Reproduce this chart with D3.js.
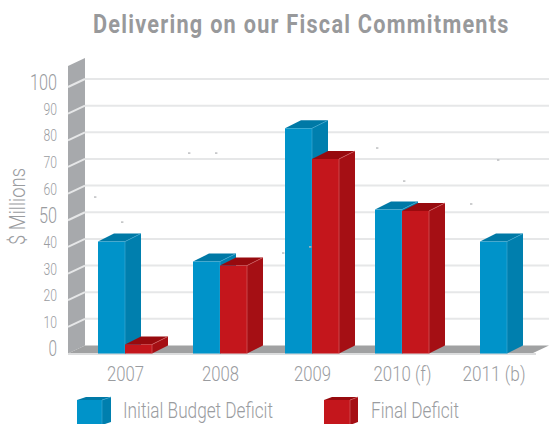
<!DOCTYPE html>
<html>
<head>
<meta charset="utf-8">
<script src="https://d3js.org/d3.v7.min.js"></script>
<style>
  html, body { margin: 0; padding: 0; background: #fff; }
  svg { display: block; }
  text { font-family: Roboto, "Liberation Sans", sans-serif; fill: #9a9c9f; }
</style>
</head>
<body>
<svg id="chart" width="549" height="424"></svg>
<script>
var categories = ["2007", "2008", "2009", "2010 (f)", "2011 (b)"];
var initialDeficit = [42, 34.5, 84.5, 54, 42];
var finalDeficit = [3.4, 33, 73, 53.5, null];
var yTicks = [0, 10, 20, 30, 40, 50, 60, 70, 80, 90, 100];
var bigTicks = [0, 50, 100];
var seriesNames = ["Initial Budget Deficit", "Final Deficit"];

// stray specks in the picture, read as values on the axis
var specksA = [55.7, 72.2, 34.7, 74.1, 53.1];
var specksB = [46.3, 72.2, 37, 61.7, 69.6];

var blue = { front: "#0093c9", side: "#007fae", top: "#0079a6", edge: "#45abd3" };
var red = { front: "#c4161c", side: "#a50f14", top: "#970a0e", edge: "#d9696c" };

var depthX = 17, depthY = 8, barW = 27;
var svg = d3.select("#chart");

// y is the back wall, front faces sit depthY lower
var y = d3.scaleLinear().domain([0, 100]).range([345.5, 79]);
var x = d3.scaleOrdinal().domain(categories).range([125, 220, 312, 402, 493.5]);
var speckX = d3.scalePoint().domain(categories).range([95, 471]);

function pts(a) { return a.map(function(p) { return p.join(","); }).join(" "); }

function poly(g, a, fill) {
  return g.append("polygon").attr("points", pts(a)).attr("fill", fill);
}

// one box: front face + side + top
function box(g, x0, w, yTop, yBottom, c, dx, dy) {
  poly(g, [[x0 + w, yTop], [x0 + w + dx, yTop - dy], [x0 + w + dx, yBottom - dy], [x0 + w, yBottom]], c.side);
  poly(g, [[x0, yTop], [x0 + dx, yTop - dy], [x0 + w + dx, yTop - dy], [x0 + w, yTop]], c.top);
  g.append("rect").attr("x", x0).attr("y", yTop).attr("width", w).attr("height", yBottom - yTop).attr("fill", c.front);
  g.append("line").attr("x1", x0 + w).attr("x2", x0 + w).attr("y1", yTop).attr("y2", yBottom)
    .attr("stroke", c.edge).attr("stroke-width", 0.6);
  g.append("line").attr("x1", x0 + w).attr("x2", x0 + w + dx).attr("y1", yTop).attr("y2", yTop - dy)
    .attr("stroke", c.edge).attr("stroke-width", 0.6);
}

function label(s, xPos, yPos, size, len, weight) {
  return svg.append("text").text(s).attr("x", xPos).attr("y", yPos)
    .attr("font-size", size).attr("font-weight", weight || 300)
    .attr("textLength", len).attr("lengthAdjust", "spacingAndGlyphs");
}

// title, squeezed sideways to fit
var title = svg.append("text").text("Delivering on our Fiscal Commitments")
  .attr("font-size", 26).attr("font-weight", 700)
  .style("letter-spacing", "1.5px")
  .style("fill", "#98999b");
var titleScale = 417 / title.node().getComputedTextLength();
title.attr("transform", "translate(93,33) scale(" + titleScale + ",1)");

// grid
svg.append("g").selectAll("line").data(yTicks.filter(function(d) { return d > 0; })).enter().append("line")
  .attr("x1", 85).attr("x2", 549)
  .attr("y1", function(d) { return y(d); }).attr("y2", function(d) { return y(d); })
  .attr("stroke", "#e6e7e8").attr("stroke-width", 2);

// wall
var x0Wall = 68, x1Wall = x0Wall + depthX;
poly(svg, [[x0Wall, 66], [x1Wall, 58], [x1Wall, y(0)], [x0Wall, y(0) + depthY]], "#a7a9ac");
svg.append("g").selectAll("line").data(yTicks.filter(function(d) { return d > 0; })).enter().append("line")
  .attr("x1", x0Wall).attr("x2", x1Wall)
  .attr("y1", function(d) { return y(d) + depthY; }).attr("y2", function(d) { return y(d); })
  .attr("stroke", "#e6e7e8").attr("stroke-width", 2);

// floor
poly(svg, [[x0Wall, y(0) + depthY], [x1Wall, y(0)], [549, y(0)], [532, y(0) + depthY]], "#a0a1a2");
svg.append("line").attr("x1", x0Wall).attr("x2", 536)
  .attr("y1", y(0) + depthY + 0.5).attr("y2", y(0) + depthY + 0.5)
  .attr("stroke", "#dcddde").attr("stroke-width", 2);

// bars
var bars = svg.append("g");
categories.forEach(function(c, i) {
  var cx = x(c);
  var base = y(0) + depthY;
  if (finalDeficit[i] === null) {
    box(bars, cx - barW / 2, barW, y(initialDeficit[i]) + depthY, base, blue, depthX - 1, depthY);
  } else {
    box(bars, cx - barW, barW, y(initialDeficit[i]) + depthY, base, blue, depthX - 1, depthY);
    box(bars, cx, barW, y(finalDeficit[i]) + depthY, base, red, depthX - 1, depthY);
  }
});

// specks
[[specksA, 0], [specksB, 27]].forEach(function(s) {
  svg.append("g").selectAll("rect").data(s[0]).enter().append("rect")
    .attr("x", function(d, i) { return speckX(categories[i]) + s[1] - 1; })
    .attr("y", function(d) { return y(d) - 0.7; })
    .attr("width", 2.4).attr("height", 1.4)
    .attr("fill", "#b8babc");
});

// y axis
var yAxis = svg.append("g").attr("transform", "translate(57,3)")
  .call(d3.axisLeft(y).tickValues(yTicks).tickSize(0).tickPadding(0));
yAxis.select(".domain").remove();
yAxis.selectAll("text")
  .attr("font-size", function(d) { return bigTicks.indexOf(d) >= 0 ? 22 : 17; })
  .attr("font-weight", 300)
  .attr("lengthAdjust", "spacingAndGlyphs")
  .attr("textLength", function(d) { return d === 100 ? 27 : d === 50 ? 18 : d === 0 ? 8.5 : 13.5; });
yAxis.attr("font-family", null).attr("font-size", null);

// x axis
var xAxis = svg.append("g").attr("transform", "translate(0,363)")
  .call(d3.axisBottom(x).tickSize(0).tickPadding(0));
xAxis.select(".domain").remove();
xAxis.attr("font-family", null).attr("font-size", null);
xAxis.selectAll("text")
  .attr("font-size", 21).attr("font-weight", 300)
  .attr("dy", "0.85em")
  .attr("lengthAdjust", "spacingAndGlyphs")
  .attr("textLength", function(d, i) { return i < 3 ? 37 : i === 3 ? 58 : 63; });

// y title
label("$ Millions", 0, 0, 22, 77).attr("transform", "translate(25,245) rotate(-90)");

// legend
var legend = svg.append("g");
box(legend, 77, 25, 400, 425, blue, 9, 3);
box(legend, 324, 26, 400, 425, red, 8, 3);
label(seriesNames[0], 123, 418, 22, 150);
label(seriesNames[1], 371, 418, 22, 88);
</script>
</body>
</html>
